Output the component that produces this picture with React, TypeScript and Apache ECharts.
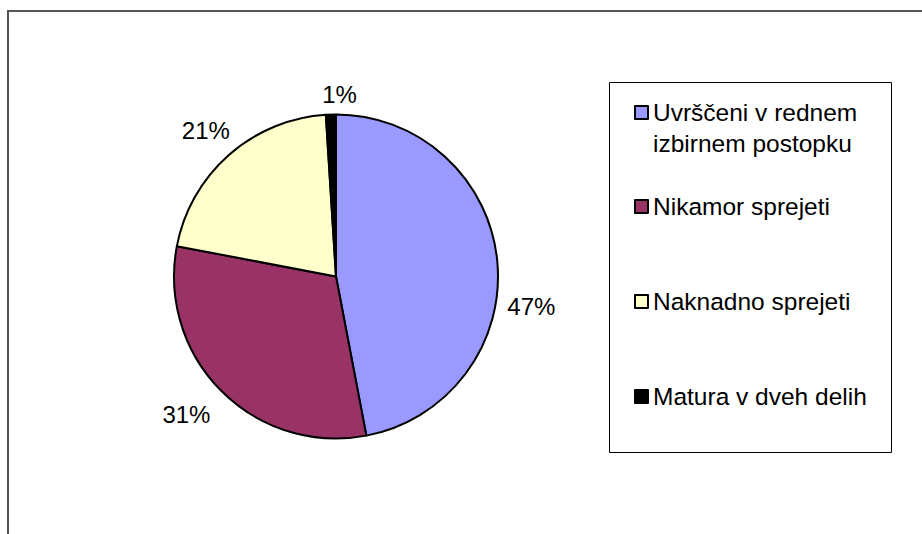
import React, { useEffect, useRef } from "react";
import * as echarts from "echarts";

const categories = [
  "Uvrščeni v rednem\nizbirnem postopku",
  "Nikamor sprejeti",
  "Naknadno sprejeti",
  "Matura v dveh delih",
];
const values = [47, 31, 21, 1];
const colors = ["#9999FF", "#993366", "#FFFFCC", "#000000"];
// label nudges (px) to mimic the original label placement
const labelNudgeX = [10, -11, 1, 26];
const labelNudgeY = [45, 23, -24, -20];

const FONT = "'Liberation Sans', Arial, sans-serif";
const LH = 31;
const PAD = 32;

export default function App() {
  const ref = useRef<HTMLDivElement>(null);
  useEffect(() => {
    if (!ref.current) return;
    const chart = echarts.init(ref.current, null, { renderer: "svg" });
    const data = categories.map((name, i) => ({
      name,
      value: values[i],
      itemStyle: { color: colors[i] },
    }));
    chart.setOption({
      animation: false,
      graphic: [
        {
          type: "rect",
          z: 0,
          shape: { x: 8, y: 11, width: 1000, height: 700 },
          style: { fill: "#fff", stroke: "#555555", lineWidth: 2 },
        },
        {
          type: "rect",
          z: 1,
          shape: { x: 609.5, y: 82.5, width: 282, height: 370 },
          style: { fill: "#fff", stroke: "#000", lineWidth: 1 },
        },
      ],
      legend: {
        orient: "vertical",
        left: 634,
        top: 66,
        padding: 0,
        itemGap: 0,
        itemWidth: 13,
        itemHeight: 13,
        icon: "rect",
        itemStyle: { borderColor: "#000", borderWidth: 2 },
        textStyle: {
          fontFamily: FONT,
          fontSize: 24.5,
          color: "#000",
          lineHeight: LH,
        },
        formatter: (name: string) =>
          name.indexOf("\n") >= 0 ? "\n" + name : name,
        data: categories.map((name, i) => ({
          name,
          textStyle: {
            padding: i === 0 ? 0 : [PAD, 0, PAD, 0],
            fontFamily: FONT,
            fontSize: 24.5,
            lineHeight: LH,
            color: "#000",
          },
        })),
        selectedMode: false,
        z: 5,
      },
      series: [
        {
          type: "pie",
          center: [336, 276.5],
          radius: 162,
          startAngle: 90,
          clockwise: true,
          avoidLabelOverlap: false,
          emphasis: { disabled: true },
          itemStyle: { borderColor: "#000", borderWidth: 2 },
          label: {
            show: true,
            position: "outside",
            formatter: (p: any) => `${p.value}%`,
            fontFamily: FONT,
            fontSize: 24,
            color: "#000",
            distanceToLabelLine: 0,
          },
          labelLine: { show: false, length: 0, length2: 0 },
          labelLayout: (p: any) => ({
            dx: labelNudgeX[p.dataIndex],
            dy: labelNudgeY[p.dataIndex],
          }),
          data,
          z: 3,
        },
      ],
    });
    return () => chart.dispose();
  }, []);
  return (
    <div
      ref={ref}
      style={{ position: "absolute", left: 0, top: 0, width: 922, height: 534 }}
    />
  );
}
